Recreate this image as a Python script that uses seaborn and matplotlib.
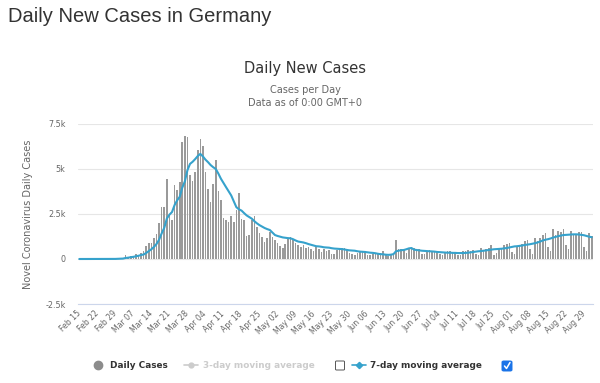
import numpy as np
import pandas as pd
import matplotlib
matplotlib.use("Agg")
import matplotlib.pyplot as plt
from matplotlib.lines import Line2D
from matplotlib.patches import FancyBboxPatch
import seaborn as sns

# ---------------- data (Feb 15 .. Sep 1, 2020) ----------------
# daily new cases, month by month
feb_cases = [0, 0, 0, 0, 0, 0, 0, 0, 0, 0, 1, 3, 11, 5, 13]
mar_cases = [66, 28, 39, 240, 130, 190, 150, 280, 230, 330, 440, 750, 880, 880, 1180,
             1400, 1990, 2900, 2900, 4450, 2420, 2180, 4120, 3840, 4270, 6490, 6860,
             6770, 4640, 4360, 4820]
apr_cases = [6070, 6680, 6300, 4820, 3900, 3190, 4180, 5510, 3800, 3260, 2300, 2180,
             2080, 2400, 2070, 2720, 3650, 2200, 2170, 1280, 1330, 2170, 2390, 1800,
             1430, 1240, 960, 1150, 1520, 1240]
may_cases = [1060, 900, 750, 600, 850, 1150, 1200, 1130, 910, 780, 690, 780, 590, 690,
             540, 460, 650, 540, 390, 560, 460, 500, 300, 280, 520, 580, 600, 620, 540,
             320, 270]
jun_cases = [250, 330, 380, 470, 430, 220, 200, 290, 310, 280, 330, 450, 210, 190, 280,
             300, 1070, 580, 540, 500, 320, 580, 600, 620, 580, 540, 290, 270, 460, 480]
jul_cases = [460, 440, 420, 270, 220, 400, 420, 440, 400, 380, 220, 200, 420, 440, 480,
             460, 500, 270, 240, 620, 500, 580, 620, 760, 230, 340, 570, 620, 800, 850,
             900]
aug_cases = [370, 290, 670, 720, 820, 1010, 1030, 530, 290, 1160, 980, 1190, 1310, 1450,
             660, 470, 1640, 1360, 1530, 1490, 1680, 790, 560, 1580, 1340, 1310, 1490,
             1490, 640, 420, 1450]
sep_cases = [1300]

# 7-day moving average line, month by month
feb_ma7 = [0, 0, 0, 0, 0, 0, 0, 0, 0, 0, 0, 0, 2, 2, 5]
mar_ma7 = [14, 18, 24, 57, 74, 101, 120, 151, 180, 221, 250, 339, 437, 541, 670, 837,
           1074, 1426, 1733, 2243, 2463, 2606, 2994, 3259, 3454, 3967, 4311, 4933, 5284,
           5400, 5550]
apr_ma7 = [5720, 5840, 5700, 5520, 5380, 5220, 5100, 5000, 4750, 4460, 4220, 3990, 3760,
           3530, 3200, 2880, 2760, 2690, 2550, 2420, 2330, 2240, 2100, 1980, 1880, 1800,
           1720, 1660, 1610, 1470]
may_ma7 = [1330, 1280, 1240, 1200, 1180, 1160, 1150, 1100, 1030, 970, 945, 920, 880, 830,
           790, 750, 710, 700, 680, 650, 640, 630, 600, 580, 570, 560, 550, 530, 500, 480,
           470]
jun_ma7 = [460, 430, 410, 400, 390, 370, 350, 340, 320, 290, 270, 260, 240, 230, 240, 270,
           430, 460, 490, 500, 540, 590, 610, 520, 500, 480, 460, 450, 440, 430]
jul_ma7 = [420, 410, 390, 380, 370, 360, 350, 350, 340, 340, 330, 330, 330, 340, 350, 370,
           390, 410, 430, 440, 460, 480, 500, 520, 540, 550, 560, 570, 590, 610, 640]
aug_ma7 = [670, 700, 710, 730, 750, 780, 800, 820, 850, 880, 920, 970, 1030, 1070, 1100,
           1140, 1190, 1230, 1270, 1300, 1330, 1340, 1350, 1360, 1370, 1370, 1360, 1340,
           1320, 1280, 1240]
sep_ma7 = [1210]

x_tick_labels = ["Feb 15", "Feb 22", "Feb 29", "Mar 07", "Mar 14", "Mar 21", "Mar 28",
                 "Apr 04", "Apr 11", "Apr 18", "Apr 25", "May 02", "May 09", "May 16",
                 "May 23", "May 30", "Jun 06", "Jun 13", "Jun 20", "Jun 27", "Jul 04",
                 "Jul 11", "Jul 18", "Jul 25", "Aug 01", "Aug 08", "Aug 15", "Aug 22",
                 "Aug 29"]
y_tick_values = [-2500, 0, 2500, 5000, 7500]
y_tick_labels = ["-2.5k", "0", "2.5k", "5k", "7.5k"]

daily_cases = (feb_cases + mar_cases + apr_cases + may_cases + jun_cases + jul_cases
               + aug_cases + sep_cases)
ma7 = feb_ma7 + mar_ma7 + apr_ma7 + may_ma7 + jun_ma7 + jul_ma7 + aug_ma7 + sep_ma7
n = len(daily_cases)
df = pd.DataFrame({"day": np.arange(n), "cases": daily_cases, "ma7": ma7})

# ---------------- style ----------------
sns.set_style("white")
plt.rcParams["font.family"] = ["DejaVu Sans"]

W, H = 600, 383
fig = plt.figure(figsize=(W / 100, H / 100), dpi=100)
fig.patch.set_facecolor("white")

px = lambda x: x / W
py = lambda y: 1 - y / H

L, R, T, B = 78, 593, 124, 304
ax = fig.add_axes([px(L), py(B), (R - L) / W, (B - T) / H])

sns.barplot(data=df, x="day", y="cases", color="#9a9a9a", saturation=1,
            width=0.62, linewidth=0, ax=ax, zorder=2)
sns.lineplot(data=df, x="day", y="ma7", color="#36a2cc", linewidth=1.5, ax=ax,
             zorder=3)

ax.set_xlim(-0.5, n - 0.5)
ax.set_ylim(-2500, 7500)
ax.set_yticks(y_tick_values)
ax.set_yticklabels(y_tick_labels, fontsize=5.8, color="#666666")
ax.set_xticks(np.arange(0, 7 * len(x_tick_labels), 7))
ax.set_xticklabels(x_tick_labels, rotation=45, ha="right", va="center",
                   rotation_mode="anchor", fontsize=5.6, color="#666666")
ax.tick_params(axis="y", length=0, pad=9)
ax.tick_params(axis="x", length=0, pad=6)
ax.set_xlabel("")
ax.set_ylabel("")
ax.grid(axis="y", color="#e6e6e6", linewidth=0.8, zorder=0)
ax.grid(axis="x", visible=False)
ax.set_axisbelow(True)
for s in ["top", "right", "left"]:
    ax.spines[s].set_visible(False)
ax.spines["bottom"].set_color("#ccd6eb")
ax.spines["bottom"].set_linewidth(0.8)

# ---------------- texts ----------------
fig.text(px(8), py(17), "Daily New Cases in Germany", fontsize=14.5,
         family=["Liberation Sans"], color="#333333", ha="left", va="center")
fig.text(px(305), py(68), "Daily New Cases", fontsize=10.5, color="#333333",
         ha="center", va="center")
fig.text(px(305), py(90), "Cases per Day", fontsize=7, color="#666666",
         ha="center", va="center")
fig.text(px(305), py(103), "Data as of 0:00 GMT+0", fontsize=7, color="#666666",
         ha="center", va="center")
fig.text(px(28), py(214), "Novel Coronavirus Daily Cases", fontsize=7,
         color="#666666", rotation=90, ha="center", va="center")

# ---------------- legend ----------------
ly = py(365)
fig.add_artist(Line2D([px(98)], [ly], marker="o", markersize=6, color="#8c8c8c",
                      transform=fig.transFigure))
fig.text(px(110), ly, "Daily Cases", fontsize=6.4, fontweight="bold",
         color="#333333", ha="left", va="center")
fig.add_artist(Line2D([px(184), px(198)], [ly, ly], color="#cccccc", linewidth=1.2,
                      transform=fig.transFigure))
fig.add_artist(Line2D([px(191)], [ly], marker="o", markersize=3.5, color="#cccccc",
                      transform=fig.transFigure))
fig.text(px(203), ly, "3-day moving average", fontsize=6.4, fontweight="bold",
         color="#cccccc", ha="left", va="center")
fig.add_artist(FancyBboxPatch((px(335.5), py(370)), px(9), 9 / H,
                              boxstyle="round,pad=0,rounding_size=0.002",
                              facecolor="white", edgecolor="#555555", linewidth=0.7,
                              transform=fig.transFigure))
fig.add_artist(Line2D([px(352), px(366)], [ly, ly], color="#36a2cc", linewidth=1.2,
                      transform=fig.transFigure))
fig.add_artist(Line2D([px(359)], [ly], marker="D", markersize=3.2, color="#36a2cc",
                      transform=fig.transFigure))
fig.text(px(370), ly, "7-day moving average", fontsize=6.4, fontweight="bold",
         color="#333333", ha="left", va="center")
fig.add_artist(FancyBboxPatch((px(502), py(371)), px(10), 10 / H,
                              boxstyle="round,pad=0,rounding_size=0.003",
                              facecolor="#1a73e8", edgecolor="#1a73e8", linewidth=0.7,
                              transform=fig.transFigure))
fig.add_artist(Line2D([px(504.5), px(506.5), px(510)], [py(366), py(368.5), py(362.5)],
                      color="white", linewidth=1.1, transform=fig.transFigure))

fig.savefig("out.png", dpi=100, facecolor="white")
